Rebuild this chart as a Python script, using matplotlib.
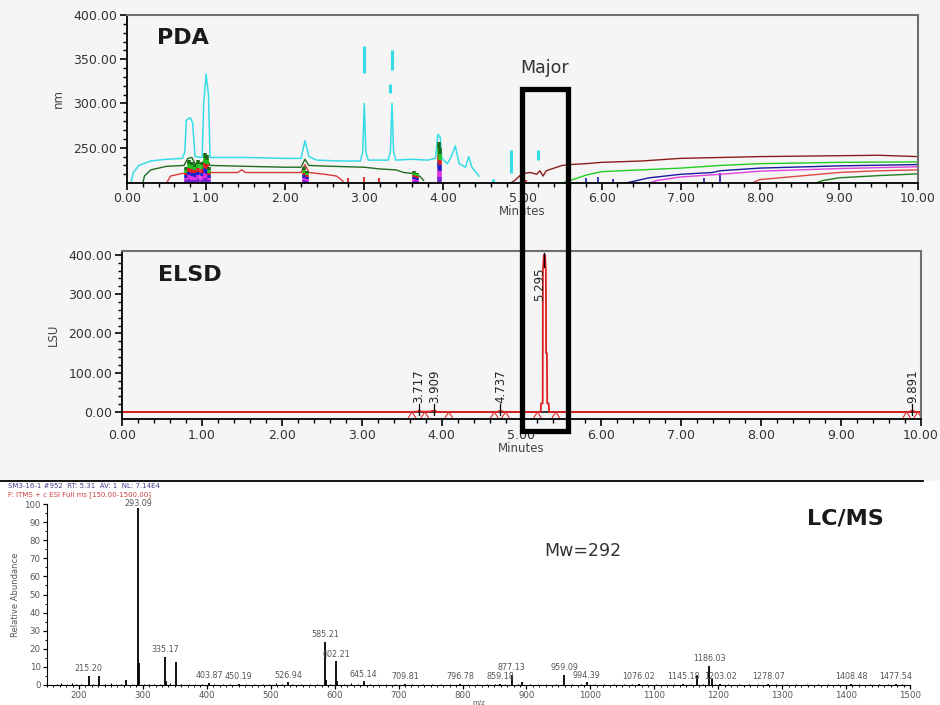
import matplotlib
matplotlib.use('Agg')
import matplotlib.pyplot as plt
from matplotlib.patches import Rectangle
from matplotlib.lines import Line2D
from matplotlib.ticker import MultipleLocator, FormatStrFormatter

# ---------------- PDA contour traces (minutes, nm) ----------------
cyan_t = [0.05, 0.08, 0.15, 0.3, 0.5, 0.7, 0.73, 0.75, 0.8, 0.83, 0.86, 0.95, 0.97, 1.0, 1.03, 1.05,
          1.5, 2.0, 2.2, 2.25, 2.3, 2.4, 2.7, 2.95, 2.98, 3.0, 3.02, 3.05, 3.3, 3.33, 3.35, 3.37, 3.4,
          3.6, 3.8, 3.9, 3.93, 3.96, 3.98, 4.05, 4.1, 4.15, 4.2, 4.28, 4.32, 4.36, 4.45]
cyan_nm = [210, 222, 230, 235, 237, 238, 245, 281, 284, 278, 240, 239, 300, 333, 310, 239,
           239, 238, 238, 258, 240, 236, 235, 235, 245, 300, 245, 236, 236, 245, 300, 245, 236,
           237, 236, 238, 265, 262, 238, 232, 240, 252, 232, 228, 240, 228, 218]
# isolated cyan islands: time, low nm, high nm
cyan_isl_t = [3.0, 3.35, 3.32, 4.85, 5.2, 4.63]
cyan_isl_lo = [335, 338, 312, 222, 236, 210]
cyan_isl_hi = [365, 360, 322, 248, 247, 215]

dgreen_t = [0.2, 0.22, 0.3, 0.5, 0.72, 0.77, 0.82, 0.86, 0.95, 1.0, 1.05, 1.5, 2.0, 2.2, 2.25, 2.3,
            2.6, 3.0, 3.2, 3.4, 3.5, 3.6, 3.7, 3.75]
dgreen_nm = [210, 218, 225, 229, 230, 238, 239, 232, 232, 240, 230, 229, 228, 228, 237, 230,
             229, 228, 226, 225, 222, 221, 218, 213]

red_t = [0.5, 0.55, 0.7, 0.9, 1.0, 1.4, 1.45, 1.5, 2.2, 2.25, 2.3, 2.5, 2.65, 2.72, 2.75]
red_nm = [210, 218, 221, 222, 222, 222, 225, 222, 222, 231, 222, 220, 218, 213, 210]
red_isl_t = [2.8, 3.0, 3.18, 3.65, 5.05]
red_isl_lo = [210, 210, 210, 210, 210]
red_isl_hi = [216, 217, 216, 220, 213]

brown_t = [4.85, 4.9, 5.0, 5.1, 5.18, 5.22, 5.26, 5.3, 5.4, 5.5, 5.6, 5.8, 6.0, 6.5, 7.0, 7.5, 8.0, 9.0, 9.5, 10.0]
brown_nm = [210, 213, 221, 222, 220, 224, 218, 224, 227, 230, 231, 232, 233.5, 235, 238, 239, 240, 241, 241.5, 240]

green_t = [5.5, 5.6, 5.8, 6.0, 6.5, 7.0, 7.5, 8.0, 9.0, 10.0]
green_nm = [210, 213, 219, 223, 225, 227, 230, 232, 233.5, 234]

blue_t = [6.3, 6.4, 6.6, 7.0, 7.4, 7.5, 8.0, 9.0, 10.0]
blue_nm = [210, 212, 216, 220, 222, 224, 227, 229.5, 231]
blue_isl_t = [5.8, 5.95, 6.15, 7.3, 7.5]
blue_isl_lo = [210, 210, 210, 210, 210]
blue_isl_hi = [216, 217, 215, 216, 222]

magenta_t = [6.6, 6.7, 7.0, 7.5, 8.0, 9.0, 10.0]
magenta_nm = [210, 213, 217, 220, 223.5, 226.5, 228.5]

red2_t = [7.9, 8.0, 8.5, 9.0, 9.5, 10.0]
red2_nm = [210, 214, 218, 222, 224, 225]

dgreen2_t = [8.7, 8.8, 9.0, 9.5, 10.0]
dgreen2_nm = [210, 213, 216, 218.5, 220.5]

# multicoloured peak blobs at the bottom of the PDA map
blob_t = [0.75, 0.78, 0.82, 0.86, 0.90, 0.95, 0.98, 1.01, 1.04, 2.24, 2.27, 3.63, 3.67, 3.94, 3.96]
blob_top = [228, 236, 234, 232, 236, 234, 244, 242, 228, 228, 224, 224, 222, 257, 250]
blob_colors = ['#7a1fd0', '#e030e0', '#1f1fd0', '#d82020', '#20c020', '#1a6a1a']

# ---------------- ELSD trace ----------------
elsd_t = [0.0, 3.60, 3.70, 3.717, 3.74, 3.85, 3.909, 3.95, 4.70, 4.737, 4.78, 5.24, 5.245, 5.265,
          5.268, 5.28, 5.295, 5.305, 5.308, 5.318, 5.322, 5.34, 5.345, 9.85, 9.891, 9.93, 10.0]
elsd_v = [0, 0, 1, 4, 1, 1, 4, 0, 0, 4, 0, 0, 22, 22,
          360, 400, 400, 360, 150, 150, 22, 22, 0, 0, 4, 0, 0]
elsd_marks = [3.63, 3.79, 4.09, 4.66, 4.80, 5.20, 5.43, 9.82, 9.96]
elsd_peaks = [3.717, 3.909, 4.737, 9.891]
elsd_major = 5.295

# ---------------- LC/MS spectrum ----------------
ms_mz = [215.20, 231.2, 274.0, 293.09, 294.1, 335.17, 336.2, 351.1, 403.87, 450.19, 526.94,
         585.21, 586.2, 602.21, 603.2, 645.14, 709.81, 796.78, 859.18, 877.13, 893.1, 959.09,
         994.39, 1076.02, 1145.18, 1166.5, 1186.03, 1190.0, 1203.02, 1278.07, 1408.48, 1477.54]
ms_int = [5, 5, 3, 100, 12, 15.5, 2, 12.5, 1.2, 0.6, 1.5,
          24, 3, 13, 2, 2, 0.6, 0.6, 0.8, 5.5, 1.5, 5.5,
          1.5, 0.5, 0.6, 5.5, 10.5, 3.3, 0.6, 0.6, 0.6, 0.6]
ms_labels = [215.20, 293.09, 335.17, 403.87, 450.19, 526.94, 585.21, 602.21, 645.14, 709.81,
             796.78, 859.18, 877.13, 959.09, 994.39, 1076.02, 1145.18, 1186.03, 1203.02,
             1278.07, 1408.48, 1477.54]
noise_mz = [165, 172, 181, 189, 196, 203, 222, 241, 250, 258, 266, 283, 301, 309, 318, 327, 343,
            360, 372, 381, 392, 412, 425, 437, 462, 474, 488, 497, 509, 518, 534, 548, 561, 572,
            593, 614, 626, 636, 656, 668, 681, 694, 721, 738, 752, 767, 781, 809, 823, 838, 851,
            866, 887, 905, 918, 931, 946, 972, 985, 1008, 1021, 1037, 1052, 1065, 1089, 1103,
            1118, 1131, 1158, 1176, 1195, 1215, 1232, 1248, 1262, 1291, 1307, 1322, 1339, 1356,
            1371, 1388, 1421, 1437, 1452, 1466, 1488]
noise_int = [0.8, 1.0, 0.5, 1.0, 0.7, 0.6, 0.5, 0.6, 1.0, 0.5, 0.4, 0.6, 0.5, 0.4, 0.6, 0.5, 1.0,
             0.5, 0.4, 0.6, 0.5, 0.4, 0.5, 0.4, 0.3, 0.5, 0.4, 0.5, 1.0, 0.5, 0.4, 0.6, 0.5, 0.7,
             0.5, 0.6, 1.0, 0.5, 0.4, 0.5, 0.4, 0.3, 0.4, 0.3, 0.5, 0.3, 0.4, 0.5, 0.3, 0.4, 0.4,
             0.6, 0.8, 0.4, 0.5, 0.4, 0.3, 0.5, 0.8, 0.4, 0.3, 0.4, 0.3, 0.5, 0.4, 0.3,
             0.4, 0.5, 0.6, 0.8, 0.5, 0.4, 0.3, 0.4, 0.3, 0.3, 0.4, 0.3, 0.3, 0.4,
             0.3, 0.4, 0.3, 0.4, 0.3, 0.3, 0.3]

bg = '#f5f5f5'
fig = plt.figure(figsize=(9.4, 7.05), dpi=100, facecolor=bg)

# white area behind the mass spectrum
fig.patches.append(Rectangle((0, 0), 1, (705 - 481) / 705, transform=fig.transFigure,
                             facecolor='white', edgecolor='none', zorder=-5))
fig.lines.append(Line2D([0, 923 / 940], [1 - 481 / 705, 1 - 481 / 705], transform=fig.transFigure,
                        color='black', lw=1.3))


def chrom_axes(ax, ylo, yhi, ymin, ylab):
    ax.set_facecolor('none')
    ax.set_xlim(0, 10)
    ax.set_ylim(ylo, yhi)
    ax.xaxis.set_major_locator(MultipleLocator(1))
    ax.xaxis.set_minor_locator(MultipleLocator(0.2))
    ax.xaxis.set_major_formatter(FormatStrFormatter('%.2f'))
    ax.yaxis.set_major_formatter(FormatStrFormatter('%.2f'))
    ax.yaxis.set_minor_locator(MultipleLocator(ymin))
    ax.tick_params(which='major', direction='out', length=5, width=1.2, labelsize=9,
                   labelcolor='#333333', pad=2)
    ax.tick_params(which='minor', direction='out', length=3, width=1)
    for s in ['top', 'right']:
        ax.spines[s].set_color('#707070')
        ax.spines[s].set_linewidth(1.5)
    for s in ['left', 'bottom']:
        ax.spines[s].set_linewidth(1.3)
    ax.set_xlabel('Minutes', fontsize=8.5, color='#444444', labelpad=0)
    ax.set_ylabel(ylab, fontsize=8.5, color='#444444', labelpad=6)


# ---------------- PDA panel ----------------
ax1 = fig.add_axes([127 / 940, (705 - 182.7) / 705, 791 / 940, 167.7 / 705])
chrom_axes(ax1, 210.5, 400, 10, 'nm')
ax1.set_yticks([250, 300, 350, 400])

cyan = '#35dce6'
ax1.plot(cyan_t, cyan_nm, color=cyan, lw=1.1)
ax1.vlines(cyan_isl_t, cyan_isl_lo, cyan_isl_hi, color=cyan, lw=2.2)
ax1.plot(dgreen_t, dgreen_nm, color='#1f6b1f', lw=1)
ax1.plot(red_t, red_nm, color='#d83a3a', lw=1)
ax1.vlines(red_isl_t, red_isl_lo, red_isl_hi, color='#d83a3a', lw=1.5)
ax1.plot(brown_t, brown_nm, color='#8b1c1c', lw=1)
ax1.plot(green_t, green_nm, color='#22cc22', lw=1)
ax1.plot(blue_t, blue_nm, color='#1a1aa0', lw=1)
ax1.vlines(blue_isl_t, blue_isl_lo, blue_isl_hi, color='#1a1aa0', lw=1.2)
ax1.plot(magenta_t, magenta_nm, color='#e040e0', lw=1)
ax1.plot(red2_t, red2_nm, color='#e04545', lw=1)
ax1.plot(dgreen2_t, dgreen2_nm, color='#208020', lw=1)
for t, top in zip(blob_t, blob_top):
    n = len(blob_colors)
    step = (top - 210) / n
    for i, c in enumerate(blob_colors):
        ax1.plot([t, t], [210 + i * step, 210 + (i + 1) * step], color=c, lw=2.6,
                 solid_capstyle='butt')
ax1.text(0.038, 0.86, 'PDA', transform=ax1.transAxes, fontsize=16, fontweight='bold',
         color='#1a1a1a', va='center')

# ---------------- ELSD panel ----------------
ax2 = fig.add_axes([122 / 940, (705 - 419) / 705, 799 / 940, 168 / 705])
chrom_axes(ax2, -17.8, 410, 20, 'LSU')
ax2.set_yticks([0, 100, 200, 300, 400])
ax2.axhline(0, color='black', lw=1.1)
ax2.plot(elsd_t, elsd_v, color='#e02020', lw=1.3)
for t in elsd_marks:
    ax2.plot([t - 0.045, t, t + 0.045], [-14, 0, -14], color='#e03030', lw=0.8)
for t in elsd_peaks:
    ax2.plot([t, t], [-8, 20], color='black', lw=0.9)
    ax2.text(t, 22, '%.3f' % t, rotation=90, ha='center', va='bottom', fontsize=8.5,
             color='#222222')
ax2.plot([elsd_major - 0.01, elsd_major - 0.01], [370, 405], color='black', lw=0.9)
ax2.text(elsd_major - 0.07, 368, '%.3f' % elsd_major, rotation=90, ha='center', va='top',
         fontsize=8.5, color='#222222')
ax2.text(0.045, 0.86, 'ELSD', transform=ax2.transAxes, fontsize=16, fontweight='bold',
         color='#1a1a1a', va='center')

# "Major" box across both chromatograms
fig.patches.append(Rectangle((521.7 / 940, 1 - 431 / 705), 45.8 / 940, 342.3 / 705,
                             transform=fig.transFigure, fill=False, edgecolor='black',
                             lw=3.8, zorder=10))
fig.text(545 / 940, 1 - 68 / 705, 'Major', ha='center', va='center', fontsize=12.5,
         color='#333333')

# ---------------- LC/MS panel ----------------
ax3 = fig.add_axes([47 / 940, 20 / 705, 863 / 940, 181 / 705])
ax3.set_facecolor('none')
ax3.set_xlim(150, 1500)
ax3.set_ylim(0, 100)
ax3.vlines(noise_mz, 0, noise_int, color='black', lw=0.8)
ax3.vlines(ms_mz, 0, ms_int, color='black', lw=1.3)
for mz in ms_labels:
    h = min(ms_int[ms_mz.index(mz)], 96)
    ax3.annotate('%.2f' % mz, (mz, h), xytext=(0, 2), textcoords='offset points',
                 ha='center', va='bottom', fontsize=5.8, color='#555555', annotation_clip=False,
                 bbox=dict(boxstyle='square,pad=0', facecolor='white', edgecolor='none')
                 if h >= 96 else None)
ax3.spines['top'].set_visible(False)
ax3.spines['right'].set_visible(False)
ax3.xaxis.set_minor_locator(MultipleLocator(10))
ax3.yaxis.set_major_locator(MultipleLocator(10))
ax3.yaxis.set_minor_locator(MultipleLocator(5))
ax3.set_xticks(range(200, 1501, 100))
ax3.tick_params(which='major', length=3, width=0.9, labelsize=6.2, labelcolor='#555555', pad=1.5)
ax3.tick_params(which='minor', length=1.5, width=0.7)
ax3.set_ylabel('Relative Abundance', fontsize=6, color='#555555', labelpad=3)
ax3.set_xlabel('m/z', fontsize=5, color='#555555', labelpad=0)

fig.text(8 / 940, 1 - 486.5 / 705, 'SM3-16-1 #952  RT: 5.31  AV: 1  NL: 7.14E4', fontsize=5,
         color='#40408a', va='center')
fig.text(8 / 940, 1 - 495 / 705, 'F: ITMS + c ESI Full ms [150.00-1500.00]', fontsize=5,
         color='#d04040', va='center')
fig.text(845 / 940, 1 - 519 / 705, 'LC/MS', ha='center', va='center', fontsize=16,
         fontweight='bold', color='#1a1a1a')
fig.text(583 / 940, 1 - 551 / 705, 'Mw=292', ha='center', va='center', fontsize=12.5,
         color='#333333')

fig.savefig('out.png', dpi=100, facecolor=bg)
